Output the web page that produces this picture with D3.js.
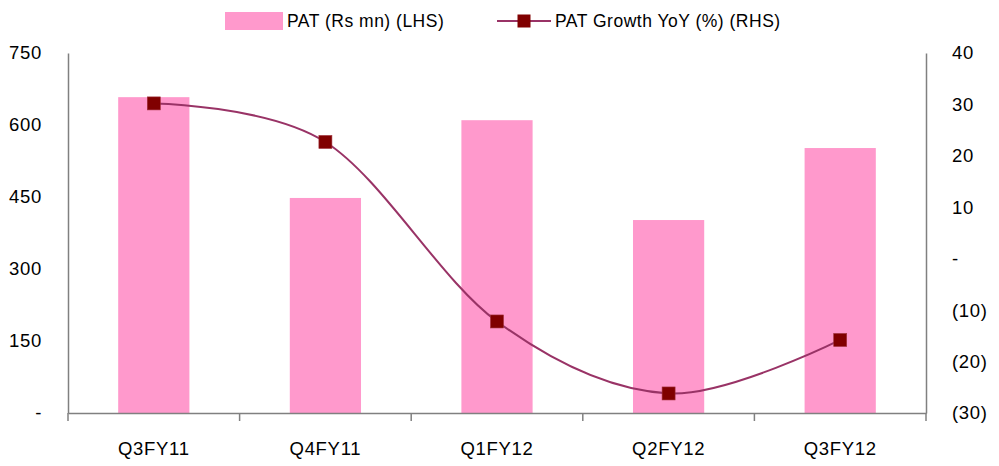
<!DOCTYPE html>
<html>
<head>
<meta charset="utf-8">
<script src="https://cdn.jsdelivr.net/npm/d3@7"></script>
<style>
  html, body { margin: 0; padding: 0; background: #fff; }
  svg text { font-family: "Liberation Sans Narrow", "Arial Narrow", "Liberation Sans", Arial, sans-serif; fill: #000; }
</style>
</head>
<body>
<svg id="chart" width="999" height="466"></svg>
<script>
const categories = ["Q3FY11", "Q4FY11", "Q1FY12", "Q2FY12", "Q3FY12"];
const patValues = [658, 448, 610, 402, 552];
const growthValues = [30.2, 22.7, -12.2, -26.2, -15.8];
const leftTicks = [0, 150, 300, 450, 600, 750];
const rightTicks = [-30, -20, -10, 0, 10, 20, 30, 40];
const legendLabels = ["PAT (Rs mn) (LHS)", "PAT Growth YoY (%) (RHS)"];

const svg = d3.select("#chart");
const pLeft = 68, pRight = 926, pTop = 53, pBottom = 413;
const fontSize = 18.5, spacing = 0.7, legendSize = 17.5, legendSpacing = 0.5;

const x = d3.scaleBand().domain(categories).range([pLeft, pRight]).paddingInner(0).paddingOuter(0);
const yL = d3.scaleLinear().domain([0, 750]).range([pBottom, pTop]);
const yR = d3.scaleLinear().domain([-30, 40]).range([pBottom, pTop]);

const barColor = "#FF99CC", lineColor = "#993366", markerColor = "#800000", axisColor = "#808080";
const barW = x.bandwidth() * 0.415;

// bars
svg.append("g").selectAll("rect").data(categories).join("rect")
  .attr("x", d => x(d) + x.bandwidth() / 2 - barW / 2)
  .attr("y", (d, i) => yL(patValues[i]))
  .attr("width", barW)
  .attr("height", (d, i) => yL(0) - yL(patValues[i]))
  .attr("fill", barColor);

// axes
const fmtL = v => v === 0 ? "-" : String(v);
const fmtR = v => v === 0 ? "-" : (v < 0 ? "(" + (-v) + ")" : String(v));

const gL = svg.append("g").attr("transform", `translate(${pLeft},0)`)
  .call(d3.axisLeft(yL).tickValues(leftTicks).tickFormat(fmtL).tickSize(0).tickPadding(26));
const gR = svg.append("g").attr("transform", `translate(${pRight},0)`)
  .call(d3.axisRight(yR).tickValues(rightTicks).tickFormat(fmtR).tickSize(0).tickPadding(26));
const gX = svg.append("g").attr("transform", `translate(0,${pBottom})`)
  .call(d3.axisBottom(x).tickSize(0).tickPadding(29));

[gL, gR, gX].forEach(g => {
  g.select(".domain").attr("stroke", axisColor).attr("stroke-width", 1.5);
  g.selectAll("text").attr("font-size", fontSize).attr("letter-spacing", spacing)
    .style("font-family", "'Liberation Sans Narrow', 'Arial Narrow', 'Liberation Sans', Arial, sans-serif")
    .attr("fill", "#000");
});
gX.selectAll("text").attr("dy", "0.71em");

// category boundary ticks on x-axis
const bounds = categories.map(c => x(c)).concat([x(categories[categories.length - 1]) + x.bandwidth()]);
svg.append("g").selectAll("line").data(bounds).join("line")
  .attr("x1", d => d).attr("x2", d => d)
  .attr("y1", pBottom).attr("y2", pBottom + 8)
  .attr("stroke", axisColor).attr("stroke-width", 1.5);

// line
const cx = d => x(d) + x.bandwidth() / 2;
const line = d3.line()
  .x((d, i) => cx(categories[i]))
  .y(d => yR(d))
  .curve(d3.curveCardinal.tension(0));
svg.append("path").datum(growthValues)
  .attr("d", line).attr("fill", "none")
  .attr("stroke", lineColor).attr("stroke-width", 2);

const ms = 13;
svg.append("g").selectAll("rect").data(growthValues).join("rect")
  .attr("x", (d, i) => cx(categories[i]) - ms / 2)
  .attr("y", d => yR(d) - ms / 2)
  .attr("width", ms).attr("height", ms)
  .attr("fill", markerColor).attr("stroke", "#A0303A").attr("stroke-width", 0.6);

// legend
const lg = svg.append("g");
lg.append("rect").attr("x", 225).attr("y", 12).attr("width", 58).attr("height", 18).attr("fill", barColor);
lg.append("text").attr("x", 287).attr("y", 21).attr("dy", "0.35em")
  .attr("font-size", legendSize).attr("letter-spacing", legendSpacing).text(legendLabels[0]);
lg.append("line").attr("x1", 497).attr("x2", 551).attr("y1", 21).attr("y2", 21)
  .attr("stroke", lineColor).attr("stroke-width", 2);
lg.append("rect").attr("x", 524 - ms / 2).attr("y", 21 - ms / 2).attr("width", ms).attr("height", ms)
  .attr("fill", markerColor);
lg.append("text").attr("x", 555).attr("y", 21).attr("dy", "0.35em")
  .attr("font-size", legendSize).attr("letter-spacing", legendSpacing).text(legendLabels[1]);
</script>
</body>
</html>
